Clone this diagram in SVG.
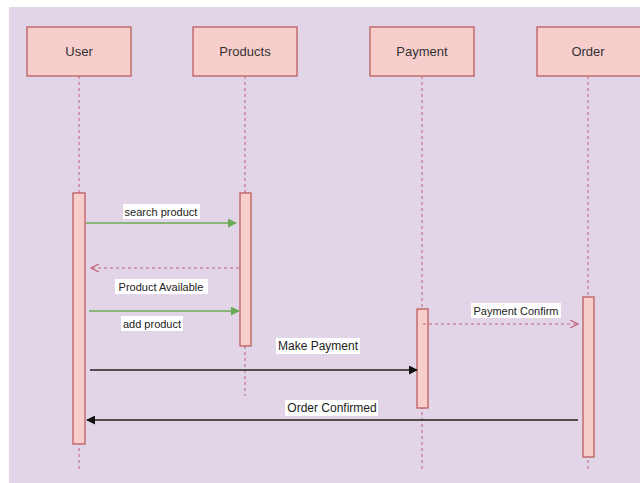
<svg xmlns="http://www.w3.org/2000/svg" width="640" height="483" viewBox="0 0 640 483">
<style>
.box{fill:#f8cecc;stroke:#b85450;stroke-width:1.2}
.act{fill:#f8cecc;stroke:#b85450;stroke-width:1.2}
.life{stroke:#c0607a;stroke-width:1;stroke-dasharray:3,3;fill:none}
.title{font-family:"Liberation Sans",Arial,sans-serif;font-size:13px;fill:#333;text-anchor:middle}
.lbl{font-family:"Liberation Sans",Arial,sans-serif;font-size:11px;fill:#222;text-anchor:middle}
.lblbg{fill:#ffffff}
.green{stroke:#6aaa55;stroke-width:1.5;fill:none}
.ret{stroke:#c0607a;stroke-width:1.2;stroke-dasharray:3,3;fill:none}
.black{stroke:#222;stroke-width:1.5;fill:none}
</style>
<defs>
<marker id="mg" viewBox="0 0 10 10" refX="9" refY="5" markerWidth="9" markerHeight="9" orient="auto" markerUnits="userSpaceOnUse"><path d="M0,0 L10,5 L0,10 z" fill="#6aaa55"/></marker>
<marker id="mb" viewBox="0 0 10 10" refX="9" refY="5" markerWidth="9" markerHeight="9" orient="auto" markerUnits="userSpaceOnUse"><path d="M0,0 L10,5 L0,10 z" fill="#111"/></marker>
<marker id="mo" viewBox="0 0 10 10" refX="9" refY="5" markerWidth="10" markerHeight="10" orient="auto" markerUnits="userSpaceOnUse"><path d="M1,1 L9,5 L1,9" fill="none" stroke="#c0607a" stroke-width="1.2"/></marker>
</defs>
<rect width="640" height="483" fill="#ffffff"/>
<rect x="9" y="7" width="631" height="476" fill="#e2d5e7"/>

<g id="user">
<line class="life" x1="79" y1="76" x2="79" y2="472"/>
<rect class="box" x="27" y="27" width="104" height="49"/>
<text class="title" x="79" y="56">User</text>
<rect class="act" x="73" y="193" width="12" height="251"/>
</g>
<g id="products">
<line class="life" x1="245" y1="76" x2="245" y2="396"/>
<rect class="box" x="193" y="27" width="104" height="49"/>
<text class="title" x="245" y="56">Products</text>
<rect class="act" x="240" y="193" width="11" height="153"/>
</g>
<g id="payment">
<line class="life" x1="422" y1="76" x2="422" y2="472"/>
<rect class="box" x="370" y="27" width="104" height="49"/>
<text class="title" x="422" y="56">Payment</text>
<rect class="act" x="417" y="309" width="11" height="99"/>
</g>
<g id="order">
<line class="life" x1="588" y1="76" x2="588" y2="472"/>
<rect class="box" x="537" y="27" width="106" height="49"/>
<text class="title" x="588" y="56">Order</text>
<rect class="act" x="583" y="297" width="11" height="160"/>
</g>

<g id="connectors">
<line class="green" x1="86" y1="223" x2="236" y2="223" marker-end="url(#mg)"/>
<rect class="lblbg" x="123" y="204" width="77" height="15"/>
<text class="lbl" x="161" y="216">search product</text>

<line class="ret" x1="239" y1="268" x2="91" y2="268" marker-end="url(#mo)"/>
<rect class="lblbg" x="115" y="279" width="93" height="15"/>
<text class="lbl" x="161" y="291">Product Available</text>

<line class="green" x1="89" y1="311" x2="239" y2="311" marker-end="url(#mg)"/>
<rect class="lblbg" x="121" y="316" width="62" height="15"/>
<text class="lbl" x="152" y="328">add product</text>

<line class="black" x1="90" y1="370" x2="417" y2="370" marker-end="url(#mb)"/>
<rect class="lblbg" x="276" y="338" width="84" height="16"/>
<text class="lbl" x="318" y="350" style="font-size:12px">Make Payment</text>

<line class="ret" x1="423" y1="324" x2="578" y2="324" marker-end="url(#mo)"/>
<rect class="lblbg" x="471" y="303" width="90" height="15"/>
<text class="lbl" x="516" y="315">Payment Confirm</text>

<line class="black" x1="578" y1="420" x2="87" y2="420" marker-end="url(#mb)"/>
<rect class="lblbg" x="285" y="400" width="93" height="16"/>
<text class="lbl" x="332" y="412" style="font-size:12px">Order Confirmed</text>
</g>
</svg>
